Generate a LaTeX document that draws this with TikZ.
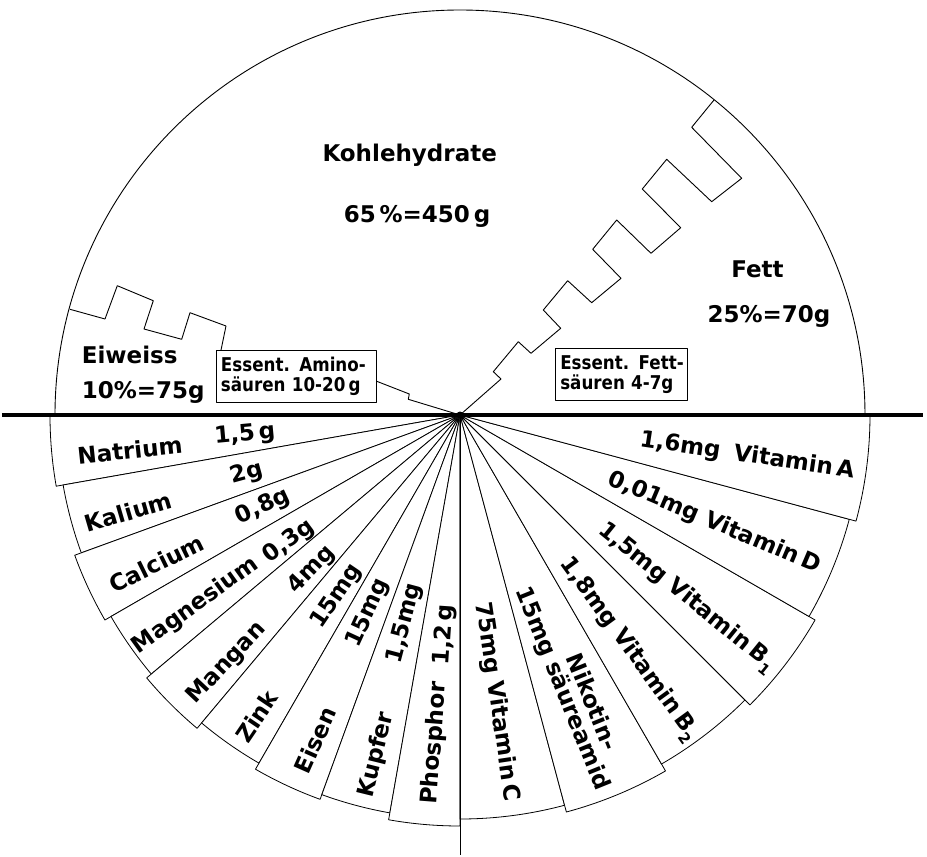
\documentclass[tikz,border=0pt]{standalone}
\usepackage{fontspec}
\setmainfont{DejaVu Sans}
\newfontfamily\boxfont{DejaVu Sans}[FakeStretch=0.88]
\newcommand{\subdigit}[1]{\raisebox{-0.3em}{\fontsize{15}{15}\selectfont\bfseries #1}}
\begin{document}
\begin{tikzpicture}[x=1pt,y=1pt,line join=round]
\tikzset{
  sector/.style={draw=black,line width=0.8pt,fill=white},
  thinline/.style={draw=black,line width=0.9pt},
  lbl/.style={font=\fontsize{23}{24}\selectfont\bfseries,inner sep=0pt},
  slbl/.style={font=\fontsize{23}{24}\selectfont\bfseries,inner sep=0pt},
  ebox/.style={draw=black,line width=0.8pt,fill=white,
    font=\boxfont\fontsize{19}{20}\selectfont\bfseries,align=left,
    inner xsep=5pt,inner ysep=0pt,minimum height=52.5pt},
}
\useasboundingbox (-460,-442) rectangle (467,415);
% upper half circle
\draw[thinline] (180:405) arc[start angle=180,end angle=0,radius=405];
% boundary Kohlehydrate / Fett
\draw[thinline] (254,315) -- (231.7,287.7) -- (281.7,236.7) -- (251.7,213.3)
  -- (206.7,255.7) -- (182.3,226) -- (220.7,187.3) -- (191,161.7)
  -- (156.7,195) -- (132.7,165.7) -- (161,136.7) -- (131.7,112.3)
  -- (107.7,134.3) -- (83.3,105) -- (100.7,86.7) -- (71,61.7)
  -- (58.3,73.3) -- (33.3,43.3) -- (41,36) -- (0,0);
% boundary Eiweiss / Kohlehydrate
\draw[thinline] (-390,105.7) -- (-355,96) -- (-342.7,129.3) -- (-306.7,114.3)
  -- (-316,86) -- (-278.3,75.7) -- (-270,102.3) -- (-234,89) -- (-240,60)
  -- (-84,34) -- (-50.7,21) -- (-51.7,15.7) -- (0,0);
% boxes
\node[ebox,text width=150pt] (amino) at (-164,38.7) {Essent. Amino-\\säuren 10-20\,g};
\node[ebox,text width=122pt] (fettbox) at (161.3,40.7) {\mbox{Essent. Fett-}\\säuren 4-7g};
% labels upper half
\node[lbl,anchor=base] (kh) at (-50.3,253.3) {Kohlehydrate};
\node[lbl,anchor=base] (khp) at (-43,192.7) {65\,\%=450\,g};
\node[lbl,anchor=base] (fett) at (297.5,137.7) {Fett};
\node[lbl,anchor=base] (fettp) at (309,92.7) {25\%=70g};
\node[lbl,anchor=base west] (eiw) at (-378.3,51.7) {Eiweiss};
\node[lbl,anchor=base west] (eiwp) at (-378.3,16.7) {10\%=75g};
% lower fan: minerals
\foreach \a/\r in {180/410,190/403,200/410,210/403,220/409,230/402,240/409,250/404,260/411}
  \draw[sector] (0,0) -- (\a:\r) arc[start angle=\a,delta angle=10,radius=\r] -- cycle;
% lower fan: vitamins
\foreach \a/\r in {270/404,285/411,300/403,315/410,330/403,345/410}
  \draw[sector] (0,0) -- (\a:\r) arc[start angle=\a,delta angle=15,radius=\r] -- cycle;
% vertical line and base line
\coordinate (c) at (0,0);
\coordinate (bot) at (0,-440);
\coordinate (bl) at (-458,0);
\coordinate (br) at (463,0);
\draw[line width=0.9pt] (c) -- (bot);
\draw[line width=4pt] (bl) -- (br);
\fill (c) circle (3.5);
% mineral labels
\node[slbl,rotate=6.1] (na) at (186.1:332) {Natrium};
\node[slbl,rotate=5.3] (nav) at (185.3:216) {1,5\,g};
\node[slbl,rotate=16.3] (ka) at (196.3:345.5) {Kalium};
\node[slbl,rotate=15.3] (kav) at (195.3:221) {2g};
\node[slbl,rotate=26.1] (ca) at (206.1:337.6) {Calcium};
\node[slbl,rotate=25] (cav) at (205:217) {0,8g};
\node[slbl,rotate=35.8] (mg) at (215.8:326) {Magnesium};
\node[slbl,rotate=36.5] (mgv) at (216.5:213) {0,3g};
\node[slbl,rotate=46.8] (mn) at (226.8:340.7) {Mangan};
\node[slbl,rotate=46.3] (mnv) at (226.3:214.5) {4mg};
\node[slbl,rotate=56] (zn) at (236:363.8) {Zink};
\node[slbl,rotate=55.8] (znv) at (235.8:219.6) {15mg};
\node[slbl,rotate=66] (fe) at (246:355.9) {Eisen};
\node[slbl,rotate=65.2] (fev) at (245.2:218.5) {15mg};
\node[slbl,rotate=76.2] (cu) at (256.2:350) {Kupfer};
\node[slbl,rotate=75.2] (cuv) at (255.2:215.5) {1,5mg};
\node[slbl,rotate=85.6] (ph) at (265.6:329.3) {Phosphor};
\node[slbl,rotate=86.1] (phv) at (266.1:220.5) {1,2\,g};
% vitamin labels
\node[slbl,rotate=-8.5] (va) at (351.9:290) {1,6mg\hspace{0.6em}Vitamin\,A};
\node[slbl,rotate=-23] (vd) at (337:276) {0,01mg Vitamin\,D};
\node[slbl,rotate=-39] (vb1) at (321.1:291) {1,5mg Vitamin\,B\subdigit{1}};
\node[slbl,rotate=-54] (vb2) at (305.8:289) {1,8mg Vitamin\,B\subdigit{2}};
\node[slbl,rotate=-68] (nis) at (290.4:292) {15mg säureamid};
\node[slbl,rotate=-68] (nik) at (294.9:316) {Nikotin-};
\node[slbl,rotate=-81.5] (vc) at (277.3:289) {75mg Vitamin\,C};
\end{tikzpicture}
\end{document}
